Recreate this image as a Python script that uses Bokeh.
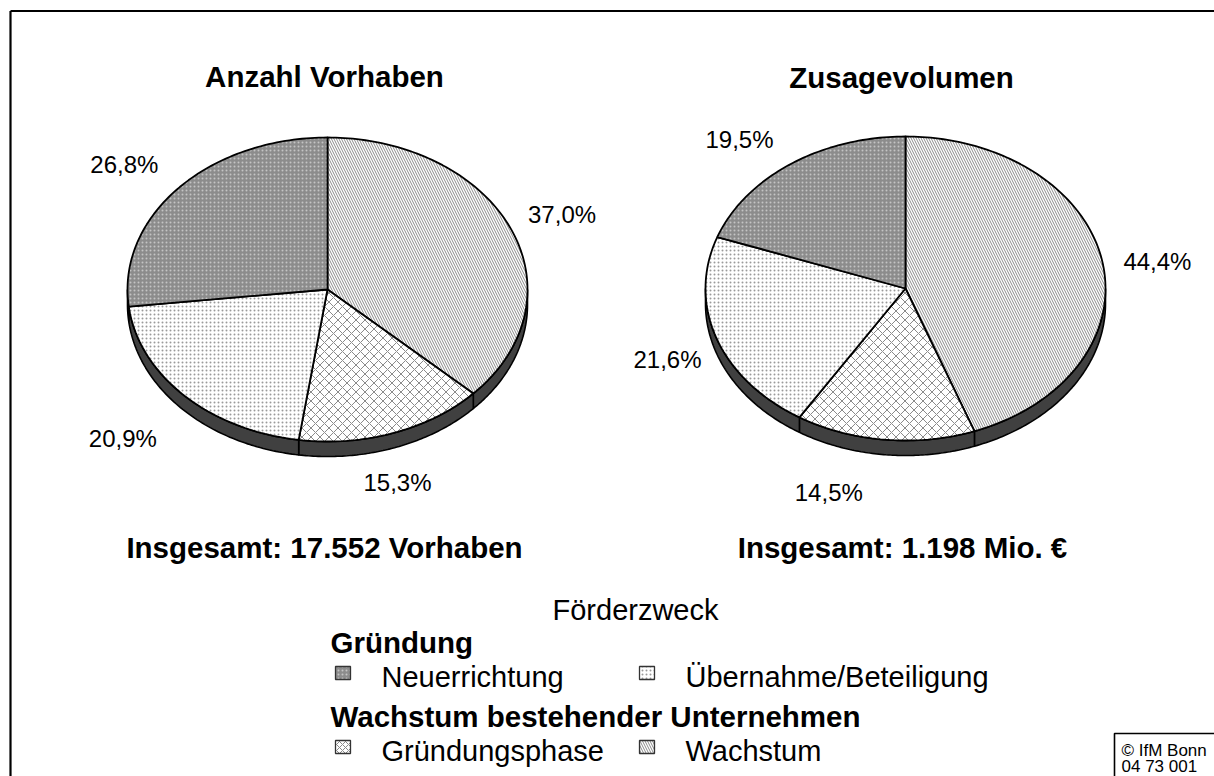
import numpy as np
from bokeh.plotting import figure
from bokeh.models import Range1d, ColumnDataSource
from bokeh.core.properties import value
from bokeh.embed import file_html
from bokeh.resources import INLINE

# ---------------- data ----------------
categories = ["Wachstum", "Gründungsphase", "Übernahme/Beteiligung", "Neuerrichtung"]
anzahl_vorhaben = [37.0, 15.3, 20.9, 26.8]   # percent, clockwise from 12 o'clock
zusagevolumen = [44.4, 14.5, 21.6, 19.5]
titles = ["Anzahl Vorhaben", "Zusagevolumen"]
totals = ["Insgesamt: 17.552 Vorhaben", "Insgesamt: 1.198 Mio. €"]
legend_title = "Förderzweck"
groups = ["Gründung", "Wachstum bestehender Unternehmen"]
group_members = [["Neuerrichtung", "Übernahme/Beteiligung"], ["Gründungsphase", "Wachstum"]]
credit = ["© IfM Bonn", "04 73 001"]

# ---------------- styles / layout ----------------
FONT = value("Liberation Sans")
STYLE = {
    "Wachstum": dict(fill="#ffffff", hatch="\\", hcol="#8a8a8a", hscale=5),
    "Gründungsphase": dict(fill="#ffffff", hatch="x", hcol="#8a8a8a", hscale=9),
    "Übernahme/Beteiligung": dict(fill="#ffffff", hatch=".", hcol="#9a9a9a", hscale=4),
    "Neuerrichtung": dict(fill="#8c8c8c", hatch=".", hcol="#c4c4c4", hscale=4),
}
W, H = 1214, 776
A, B, DEPTH = 200, 152, 15
PIES = [dict(cx=327, cy=289, vals=anzahl_vorhaben, title_x=324, total_x=324,
             nudges=[(51, -15), (4, 50), (-61, 43), (-54, -24)]),
        dict(cx=905, cy=288, vals=zusagevolumen, title_x=901, total_x=902,
             nudges=[(55, 0), (-56, 53), (-49, 21), (-51, -25)])]

p = figure(width=W, height=H, x_range=Range1d(0, W), y_range=Range1d(H, 0),
           output_backend="svg", toolbar_location=None, min_border=0,
           outline_line_color=None, background_fill_color="white", border_fill_color="white")
p.axis.visible = False
p.grid.visible = False

# outer frame (left + top visible in the viewport)
p.segment(x0=[10, 10], y0=[10.5, 10.5], x1=[1300, 10], y1=[10.5, 900], line_color="black", line_width=2.2)


def ell(cx, cy, t, dy=0.0):
    return cx + A * np.sin(t), cy - B * np.cos(t) + dy


def fmt(v):
    return f"{v:.1f}".replace(".", ",") + "%"


for pie in PIES:
    cx, cy, vals = pie["cx"], pie["cy"], pie["vals"]
    cum = np.concatenate([[0], np.cumsum(vals)]) / 100.0 * 2 * np.pi
    # side (3D rim)
    sx, sy = [], []
    for i in range(len(vals)):
        s, e = max(cum[i], np.pi / 2), min(cum[i + 1], 3 * np.pi / 2)
        if e > s:
            t = np.linspace(s, e, 80)
            x1, y1 = ell(cx, cy, t)
            x2, y2 = ell(cx, cy, t[::-1], DEPTH)
            sx.append(list(np.concatenate([x1, x2])))
            sy.append(list(np.concatenate([y1, y2])))
    p.patches(sx, sy, fill_color="#404040", line_color="black", line_width=1.6)
    # top slices
    xs, ys, fills, hatches, hcols, hscales = [], [], [], [], [], []
    for i, cat in enumerate(categories):
        t = np.linspace(cum[i], cum[i + 1], max(int(vals[i] * 3), 8))
        x, y = ell(cx, cy, t)
        xs.append([cx] + list(x))
        ys.append([cy] + list(y))
        st = STYLE[cat]
        fills.append(st["fill"]); hatches.append(st["hatch"]); hcols.append(st["hcol"]); hscales.append(st["hscale"])
    src = ColumnDataSource(dict(xs=xs, ys=ys, fill=fills, hatch=hatches, hcol=hcols, hscale=hscales))
    p.patches("xs", "ys", source=src, fill_color="fill", hatch_pattern="hatch", hatch_color="hcol",
              hatch_scale="hscale", hatch_weight=1, line_color="black", line_width=1.8)
    # labels
    mids = (cum[:-1] + cum[1:]) / 2
    ex, ey = ell(cx, cy, mids)
    lx = [ex[i] + pie["nudges"][i][0] for i in range(len(vals))]
    ly = [ey[i] + pie["nudges"][i][1] for i in range(len(vals))]
    p.text(x=lx, y=ly, text=[fmt(v) for v in vals], text_font=FONT, text_font_size=value("24px"),
           text_align="center", text_baseline="middle", text_color="black")

# titles and totals
p.text(x=[PIES[0]["title_x"], PIES[1]["title_x"]], y=[76, 77], text=titles, text_font=FONT,
       text_font_size=value("29.5px"), text_font_style="bold", text_align="center", text_baseline="middle")
p.text(x=[PIES[0]["total_x"], PIES[1]["total_x"]], y=[547, 547], text=totals, text_font=FONT,
       text_font_size=value("29.5px"), text_font_style="bold", text_align="center", text_baseline="middle")

# legend
p.text(x=[635], y=[609], text=[legend_title], text_font=FONT, text_font_size=value("29px"),
       text_align="center", text_baseline="middle")
group_y = [642, 716]
row_y = [676, 750]
col_icon_x = [335, 639]
col_text_x = [381, 685]
p.text(x=[330, 330], y=group_y, text=groups, text_font=FONT, text_font_size=value("29.5px"),
       text_font_style="bold", text_align="left", text_baseline="middle")
for r, members in enumerate(group_members):
    for c, cat in enumerate(members):
        st = STYLE[cat]
        p.quad(left=[col_icon_x[c]], right=[col_icon_x[c] + 15], top=[row_y[r] - 10], bottom=[row_y[r] + 3],
               fill_color=st["fill"], hatch_pattern=st["hatch"], hatch_color=st["hcol"],
               hatch_scale=min(st["hscale"], 6), hatch_weight=1, line_color="#333333", line_width=1.3)
        p.text(x=[col_text_x[c]], y=[row_y[r]], text=[cat], text_font=FONT,
               text_font_size=value("29px"), text_align="left", text_baseline="middle")

# credit box
p.quad(left=[1114], right=[1300], top=[733], bottom=[900], fill_color="white", line_color="black", line_width=1.6)
p.text(x=[1121, 1121], y=[750, 766], text=credit, text_font=FONT, text_font_size=value("17px"),
       text_align="left", text_baseline="middle")

open("out.html", "w").write(file_html(p, INLINE))
